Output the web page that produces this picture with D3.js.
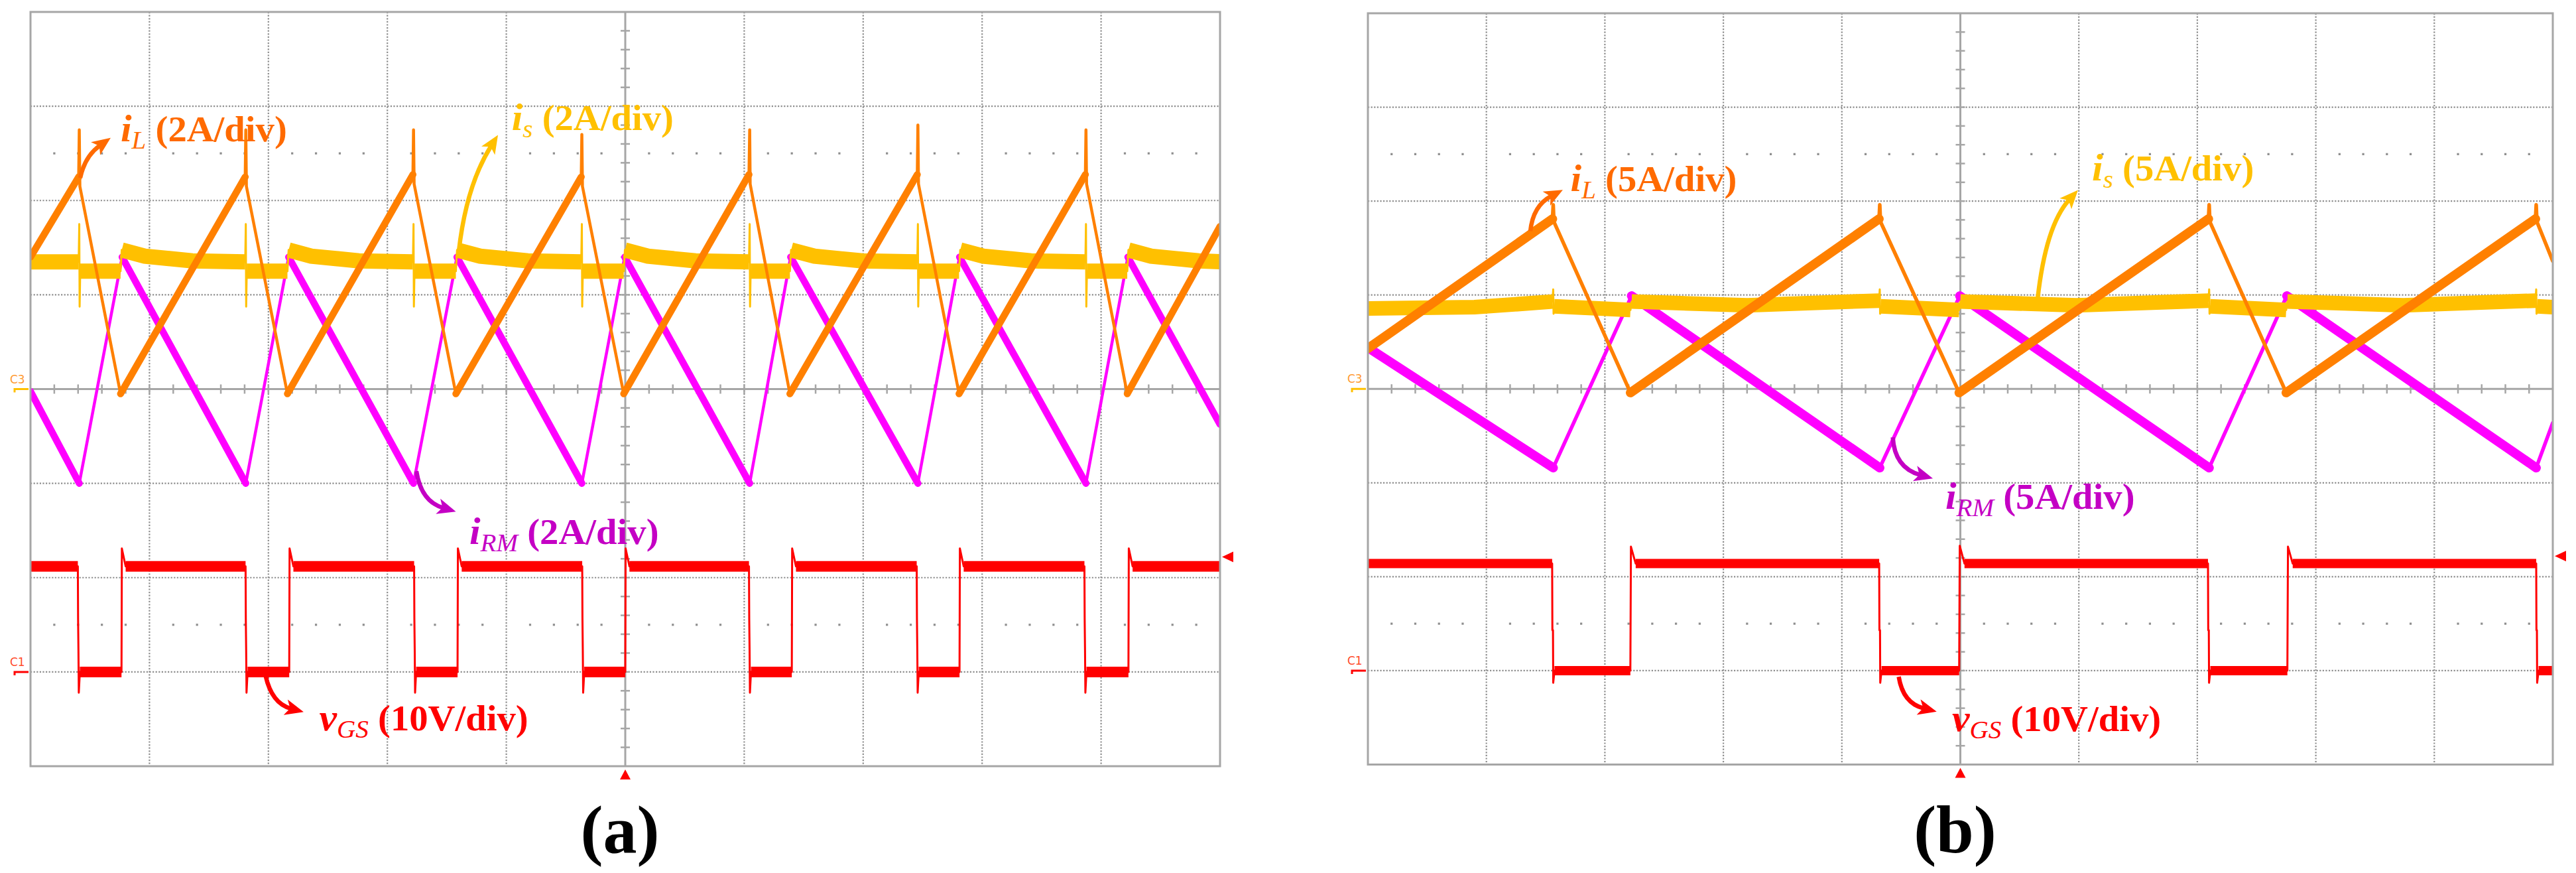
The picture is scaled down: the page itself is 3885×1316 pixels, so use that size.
<!DOCTYPE html>
<html><head><meta charset="utf-8">
<script src="https://cdn.jsdelivr.net/npm/d3@7/dist/d3.min.js"></script>
<style>html,body{margin:0;padding:0;background:#fff;}svg{display:block;}</style>
</head><body>
<svg id="c" width="3885" height="1316"></svg>
<script>
// ---------------- DATA (time in divisions, currents in A, voltage in V) ----------------
const iL_a = [[0,2.8],[0.405,4.5],[0.41,5.5],[0.415,4.3],[0.757,-0.1],
 [1.805,4.5],[1.81,5.5],[1.815,4.3],[2.16,-0.1],
 [3.215,4.55],[3.22,5.5],[3.225,4.35],[3.576,-0.1],
 [4.63,4.5],[4.635,5.4],[4.64,4.3],[4.987,-0.1],
 [6.04,4.55],[6.046,5.5],[6.05,4.35],[6.384,-0.1],
 [7.455,4.55],[7.46,5.6],[7.465,4.35],[7.806,-0.1],
 [8.868,4.55],[8.873,5.5],[8.878,4.35],[9.22,-0.1],[10,3.45]];
const is_a = [[0,2.7],[0.405,2.7],[0.41,3.5],[0.413,1.75],[0.418,2.5],[0.757,2.5],[0.767,2.95],[0.96,2.82],[1.36,2.72],
 [1.805,2.7],[1.81,3.5],[1.813,1.75],[1.818,2.5],[2.16,2.5],[2.17,2.95],[2.36,2.82],[2.76,2.72],
 [3.215,2.7],[3.22,3.5],[3.223,1.75],[3.228,2.5],[3.576,2.5],[3.586,2.95],[3.78,2.82],[4.18,2.72],
 [4.63,2.7],[4.635,3.5],[4.638,1.75],[4.643,2.5],[4.987,2.5],[4.997,2.95],[5.19,2.82],[5.59,2.72],
 [6.04,2.7],[6.046,3.5],[6.049,1.75],[6.054,2.5],[6.384,2.5],[6.394,2.95],[6.59,2.82],[6.99,2.72],
 [7.455,2.7],[7.46,3.5],[7.463,1.75],[7.468,2.5],[7.806,2.5],[7.816,2.95],[8.01,2.82],[8.41,2.72],
 [8.868,2.7],[8.873,3.5],[8.876,1.75],[8.881,2.5],[9.22,2.5],[9.23,2.95],[9.42,2.82],[9.82,2.72],[10,2.7]];
const iRM_a = [[0,-0.05],[0.41,-2.0],[0.77,2.8],[1.81,-2.0],[2.17,2.8],[3.22,-2.0],[3.585,2.8],[4.635,-2.0],
 [4.995,2.8],[6.046,-2.0],[6.39,2.8],[7.46,-2.0],[7.81,2.8],[8.873,-2.0],[9.225,2.8],[10,-0.75]];
const vGS_a = [[0,11.2],[0.398,11.2],[0.40,5.7],[0.403,2.3],[0.406,-2.2],[0.415,0],[0.765,0],[0.768,13.1],[0.8,11.2],
 [1.808,11.2],[1.81,5.7],[1.813,2.3],[1.816,-2.2],[1.825,0],[2.175,0],[2.178,13.1],[2.21,11.2],
 [3.225,11.2],[3.227,5.7],[3.23,2.3],[3.233,-2.2],[3.242,0],[3.59,0],[3.593,13.1],[3.625,11.2],
 [4.638,11.2],[4.64,5.7],[4.643,2.3],[4.646,-2.2],[4.655,0],[5.0,0],[5.003,13.1],[5.035,11.2],
 [6.04,11.2],[6.042,5.7],[6.045,2.3],[6.048,-2.2],[6.057,0],[6.4,0],[6.403,13.1],[6.435,11.2],
 [7.45,11.2],[7.452,5.7],[7.455,2.3],[7.458,-2.2],[7.467,0],[7.81,0],[7.813,13.1],[7.845,11.2],
 [8.86,11.2],[8.862,5.7],[8.865,2.3],[8.868,-2.2],[8.877,0],[9.23,0],[9.233,13.1],[9.265,11.2],[10,11.2]];

const iL_b = [[0,2.15],[1.558,9.05],[1.564,9.8],[1.57,8.9],[2.216,-0.2],
 [4.314,9.05],[4.32,9.8],[4.326,8.9],[4.99,-0.2],
 [7.094,9.05],[7.1,9.8],[7.106,8.9],[7.75,-0.2],
 [9.854,9.05],[9.86,9.8],[9.866,8.9],[10,6.8]];
const is_b = [[0,4.28],[0.9,4.35],[1.558,4.65],[1.564,5.3],[1.567,4.0],[1.572,4.4],[2.216,4.2],[2.226,4.65],[3.2,4.45],
 [4.314,4.7],[4.32,5.3],[4.323,4.0],[4.328,4.4],[4.99,4.2],[5.0,4.65],[5.98,4.45],
 [7.094,4.7],[7.1,5.3],[7.103,4.0],[7.108,4.4],[7.75,4.2],[7.76,4.65],[8.74,4.45],
 [9.854,4.7],[9.86,5.3],[9.863,4.0],[9.868,4.4],[10,4.35]];
const iRM_b = [[0,2.2],[1.564,-4.2],[2.225,4.95],[4.32,-4.2],[4.995,4.95],[7.1,-4.2],[7.755,4.95],[9.86,-4.2],[10,-1.8]];
const vGS_b = [[0,11.4],[1.555,11.4],[1.557,4.3],[1.562,4.3],[1.564,-1.3],[1.575,0],[2.215,0],[2.22,13.2],[2.26,11.4],
 [4.315,11.4],[4.317,4.3],[4.322,4.3],[4.324,-1.3],[4.335,0],[4.99,0],[4.995,13.3],[5.035,11.4],
 [7.09,11.4],[7.092,4.3],[7.097,4.3],[7.099,-1.3],[7.11,0],[7.76,0],[7.765,13.2],[7.805,11.4],
 [9.86,11.4],[9.862,4.3],[9.866,4.3],[9.868,-1.3],[9.88,0],[10,0]];

const currentPerDiv = [2, 5];      // A/div for panels a, b
const voltPerDiv = [10, 10];       // V/div
const currentLabels = ["(2A/div)", "(5A/div)"];
const voltLabel = "(10V/div)";
const panelTitles = ["(a)", "(b)"];
const channelNames = ["C3", "C1"];
const triggerLevel = [12.2, 12.2];

// ---------------- LAYOUT / STYLE ----------------
const svg = d3.select("#c");
svg.append("rect").attr("width",3885).attr("height",1316).attr("fill","#fff");
const COL = {iL:"#FF8000", is:"#FFC000", iRM:"#FF00FF", vGS:"#FF0000",
  lblL:"#FF6A00", lblS:"#FFC000", lblRM:"#C400C4", lblV:"#FF0000", grid:"#8e8e8e", frame:"#a6a6a6"};
const FONT = "'Liberation Serif','Times New Roman',serif";

const panels = [
 {left:46, right:1840, top:18, bottom:1155, cur:currentPerDiv[0], volt:voltPerDiv[0],
  data:{iL:iL_a, is:is_a, iRM:iRM_a, vGS:vGS_a}, w:{line:10.5, thin:4.5, sband:23, vband:16},
  ann:{
   iL:{txt:[0.758,5.25], a:[[0.418,4.48],[0.457,4.94],[0.674,5.33]]},
   is:{txt:[4.045,5.49], a:[[3.6,2.91],[3.662,4.31],[3.93,5.39]]},
   iRM:{txt:[3.69,-3.28], a:[[3.244,-1.74],[3.283,-2.38],[3.576,-2.6]]},
   vGS:{txt:[2.428,-6.17], a:[[1.976,-0.4],[2.029,-3.36],[2.296,-4.24]]}
  }},
 {left:2063, right:3850, top:20, bottom:1152.5, cur:currentPerDiv[1], volt:voltPerDiv[1],
  data:{iL:iL_b, is:is_b, iRM:iRM_b, vGS:vGS_b}, w:{line:14, thin:5.5, sband:22, vband:14},
  ann:{
   iL:{txt:[1.71,10.52], a:[[1.371,8.4],[1.393,9.75],[1.645,10.6]]},
   is:{txt:[6.111,11.09], a:[[5.652,4.77],[5.72,8.69],[5.993,10.59]]},
   iRM:{txt:[4.874,-6.39], a:[[4.43,-2.58],[4.445,-4.2],[4.768,-4.77]]},
   vGS:{txt:[4.93,-6.44], a:[[4.48,-0.65],[4.516,-3.47],[4.8,-4.36]]}
  }}
];

function drawTrace(g, data, xs, ys, color, wide, thin, isWide, cap) {
  const pts = data.map(d => [xs(d[0]), ys(d[1])]);
  const runs = []; let cur = [pts[0]]; let cw = null;
  for (let i = 1; i < pts.length; i++) {
    const a = pts[i-1], b = pts[i];
    const w = isWide(a,b) ? wide : thin;
    if (cw === null || w === cw) { cur.push(b); cw = w; }
    else { runs.push({p:cur, w:cw}); cur = [a,b]; cw = w; }
  }
  runs.push({p:cur, w:cw});
  const line = d3.line();
  runs.forEach(r => {
    g.append("path").attr("d", line(r.p)).attr("fill","none").attr("stroke",color)
     .attr("stroke-width", r.w).attr("stroke-linejoin", r.w===wide && cap==="butt" ? "miter" : "round")
     .attr("stroke-linecap", r.w===wide ? cap : "round");
  });
}

function arrow(g, p0, c, p1, color) {
  const ang = Math.atan2(p1[1]-c[1], p1[0]-c[0]);
  const L = 28, W = 12;
  const ca = Math.cos(ang), sa = Math.sin(ang);
  const base = [p1[0]-L*ca, p1[1]-L*sa];
  const endLine = [p1[0]-(L-8)*ca, p1[1]-(L-8)*sa];
  g.append("path").attr("d", `M${p0[0]},${p0[1]} Q${c[0]},${c[1]} ${endLine[0]},${endLine[1]}`)
   .attr("fill","none").attr("stroke",color).attr("stroke-width",6.5);
  const notch = [p1[0]-(L-7)*ca, p1[1]-(L-7)*sa];
  const l = [base[0]-W*sa, base[1]+W*ca], r = [base[0]+W*sa, base[1]-W*ca];
  g.append("path").attr("d", `M${p1[0]},${p1[1]}L${l[0]},${l[1]}L${notch[0]},${notch[1]}L${r[0]},${r[1]}Z`).attr("fill",color);
}

function label(g, x, y, sym, sub, txt, color) {
  const gg = g.append("g").attr("transform", `translate(${x},${y}) scale(1.03,1)`);
  const t = gg.append("text").attr("font-family",FONT).attr("font-weight","bold").attr("font-size",55).attr("fill",color);
  t.append("tspan").attr("font-style","italic").attr("font-size",58).text(sym);
  t.append("tspan").attr("font-style","italic").attr("font-weight","normal").attr("font-size",38).attr("dy",11).text(sub);
  t.append("tspan").attr("dy",-11).text(" " + txt);
}

panels.forEach((P, pi) => {
  const g = svg.append("g");
  const xs = d3.scaleLinear().domain([0,10]).range([P.left,P.right]);
  const yd = d3.scaleLinear().domain([-4,4]).range([P.bottom,P.top]);
  const yc = d3.scaleLinear().domain([-4*P.cur, 4*P.cur]).range([P.bottom,P.top]);
  const yv = d3.scaleLinear().domain([(-4+3)*P.volt, (4+3)*P.volt]).range([P.bottom,P.top]);

  // grid
  const grid = g.append("g");
  d3.range(1,10).filter(i => i!==5).forEach(i => {
    grid.append("line").attr("x1",xs(i)).attr("x2",xs(i)).attr("y1",P.top).attr("y2",P.bottom)
      .attr("stroke",COL.grid).attr("stroke-width",2.2).attr("stroke-dasharray","2.2,2.4");
  });
  d3.range(-3,4).filter(j => j!==0).forEach(j => {
    grid.append("line").attr("y1",yd(j)).attr("y2",yd(j)).attr("x1",P.left).attr("x2",P.right)
      .attr("stroke",COL.grid).attr("stroke-width",2.2).attr("stroke-dasharray","2.2,2.4");
  });
  // sparse dot rows
  [2.5,-2.5].forEach(j => {
    d3.range(1,50).filter(k => k%5!==0).forEach(k => {
      grid.append("rect").attr("x",xs(k/5)-1.6).attr("y",yd(j)-1.6).attr("width",3.2).attr("height",3.2).attr("fill",COL.grid);
    });
  });
  // center axes with ticks
  grid.append("line").attr("x1",xs(5)).attr("x2",xs(5)).attr("y1",P.top).attr("y2",P.bottom).attr("stroke",COL.frame).attr("stroke-width",3);
  grid.append("line").attr("y1",yd(0)).attr("y2",yd(0)).attr("x1",P.left).attr("x2",P.right).attr("stroke",COL.frame).attr("stroke-width",3);
  d3.range(1,50).forEach(k => {
    grid.append("line").attr("x1",xs(k/5)).attr("x2",xs(k/5)).attr("y1",yd(0)-7).attr("y2",yd(0)+7).attr("stroke",COL.frame).attr("stroke-width",2.5);
  });
  d3.range(1,40).forEach(k => {
    grid.append("line").attr("y1",yd(-4+k/5)).attr("y2",yd(-4+k/5)).attr("x1",xs(5)-7).attr("x2",xs(5)+7).attr("stroke",COL.frame).attr("stroke-width",2.5);
  });

  // traces (clipped)
  const cid = "clip"+pi;
  svg.append("clipPath").attr("id",cid).append("rect").attr("x",P.left).attr("y",P.top-30).attr("width",P.right-P.left).attr("height",P.bottom-P.top+30);
  const tg = g.append("g").attr("clip-path",`url(#${cid})`);
  const band = (a,b) => Math.abs(b[1]-a[1]) < Math.abs(b[0]-a[0]);
  drawTrace(tg, P.data.iRM, xs, yc, COL.iRM, P.w.line, P.w.thin, (a,b) => b[1]>a[1] && (b[0]-a[0])>20, "round");
  drawTrace(tg, P.data.is, xs, yc, COL.is, P.w.sband, 3, band, "butt");
  drawTrace(tg, P.data.iL, xs, yc, COL.iL, P.w.line, P.w.thin, (a,b) => b[1]<a[1] && (b[0]-a[0])>20, "round");
  drawTrace(tg, P.data.vGS, xs, yv, COL.vGS, P.w.vband, 3, band, "butt");

  // frame
  g.append("rect").attr("x",P.left).attr("y",P.top).attr("width",P.right-P.left).attr("height",P.bottom-P.top)
   .attr("fill","none").attr("stroke",COL.frame).attr("stroke-width",3);

  // channel markers
  const mk = (y, color, txtColor, name) => {
    g.append("path").attr("d",`M${P.left-24},${y+5}V${y}H${P.left-3}`).attr("fill","none").attr("stroke",color).attr("stroke-width",3);
    g.append("text").attr("x",P.left-31).attr("y",y-9).attr("font-family","'DejaVu Sans',sans-serif").attr("font-size",17)
     .attr("fill",txtColor).text(name);
  };
  mk(yc(0), COL.is, "#FF9A30", channelNames[0]);
  mk(yv(0), COL.vGS, "#FF4A2A", channelNames[1]);
  // trigger markers
  const tx = xs(5);
  g.append("path").attr("d",`M${tx},${P.bottom+5}L${tx-8},${P.bottom+20}L${tx+8},${P.bottom+20}Z`).attr("fill","#FF0000");
  const ty = yv(triggerLevel[pi]);
  g.append("path").attr("d",`M${P.right+3},${ty}L${P.right+20},${ty-8}L${P.right+20},${ty+8}Z`).attr("fill","#FF0000");

  // annotations
  const A = P.ann;
  const pc = (d) => [xs(d[0]), yc(d[1])], pv = (d) => [xs(d[0]), yv(d[1])];
  arrow(g, ...A.iL.a.map(pc), COL.lblL);
  label(g, ...pc(A.iL.txt), "i", "L", currentLabels[pi], COL.lblL);
  arrow(g, ...A.is.a.map(pc), COL.lblS);
  label(g, ...pc(A.is.txt), "i", "s", currentLabels[pi], COL.lblS);
  arrow(g, ...A.iRM.a.map(pc), COL.lblRM);
  label(g, ...pc(A.iRM.txt), "i", "RM", currentLabels[pi], COL.lblRM);
  arrow(g, ...A.vGS.a.map(pv), COL.lblV);
  label(g, ...pv(A.vGS.txt), "v", "GS", voltLabel, COL.lblV);

  // panel title
  g.append("text").attr("x",(P.left+P.right)/2 - 8).attr("y",1285).attr("text-anchor","middle")
   .attr("font-family",FONT).attr("font-weight","bold").attr("font-size",102).attr("fill","#000")
   .text(panelTitles[pi]);
});
</script>
</body></html>
